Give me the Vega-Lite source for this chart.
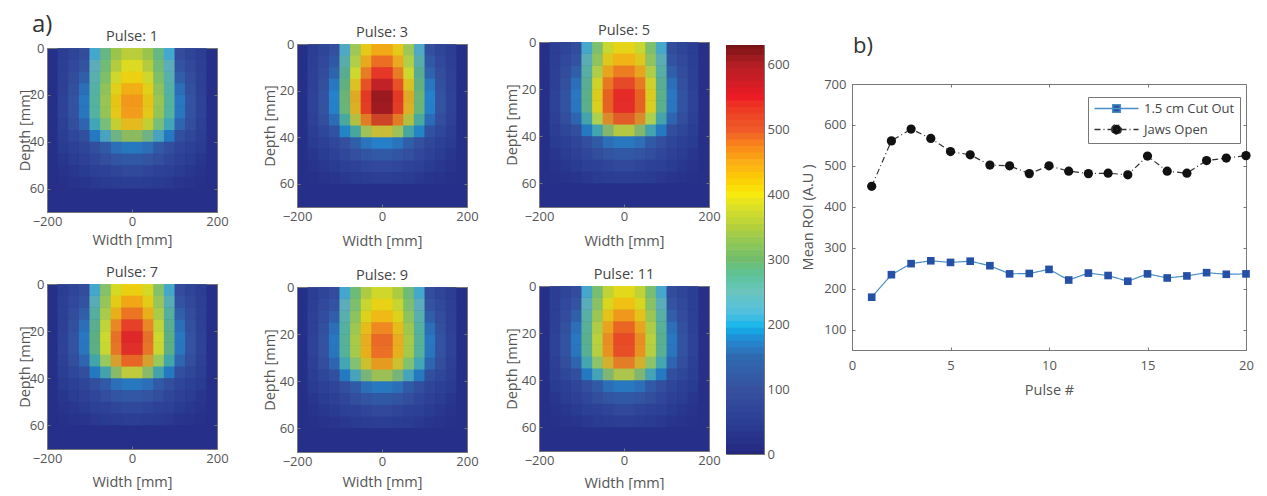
{"$schema":"https://vega.github.io/schema/vega-lite/v6.json","padding":{"left":16,"top":0,"right":0,"bottom":0},"background":"white",
"config":{"font":"Open Sans","view":{"stroke":"#777"},"title":{"font":"Open Sans","fontSize":14.5,"fontWeight":"normal","color":"#444","offset":-2},"axis":{"grid":false,"labelFlush":false,"labelFont":"Open Sans","titleFont":"Open Sans","labelFontSize":13,"titleFontSize":14.5,"titleFontWeight":"normal","labelColor":"#555","titleColor":"#555","domainColor":"#777","tickColor":"#777","tickSize":-3,"labelPadding":6}},
"resolve":{"scale":{"color":"independent"}},
"datasets":{
"c":[{"v":0},{"v":10},{"v":20},{"v":30},{"v":40},{"v":50},{"v":60},{"v":70},{"v":80},{"v":90},{"v":100},{"v":110},{"v":120},{"v":130},{"v":140},{"v":150},{"v":160},{"v":170},{"v":180},{"v":190},{"v":200},{"v":210},{"v":220},{"v":230},{"v":240},{"v":250},{"v":260},{"v":270},{"v":280},{"v":290},{"v":300},{"v":310},{"v":320},{"v":330},{"v":340},{"v":350},{"v":360},{"v":370},{"v":380},{"v":390},{"v":400},{"v":410},{"v":420},{"v":430},{"v":440},{"v":450},{"v":460},{"v":470},{"v":480},{"v":490},{"v":500},{"v":510},{"v":520},{"v":530},{"v":540},{"v":550},{"v":560},{"v":570},{"v":580},{"v":590},{"v":600},{"v":610},{"v":620},{"v":630}],
"p1":[
{"w":-150,"d":0,"v":50},{"w":-125,"d":0,"v":60},{"w":-100,"d":0,"v":85},{"w":-75,"d":0,"v":200},{"w":-50,"d":0,"v":290},{"w":-25,"d":0,"v":330},{"w":0,"d":0,"v":340},{"w":25,"d":0,"v":330},{"w":50,"d":0,"v":290},{"w":75,"d":0,"v":200},{"w":100,"d":0,"v":85},{"w":125,"d":0,"v":60},{"w":150,"d":0,"v":50},
{"w":-150,"d":5,"v":60},{"w":-125,"d":5,"v":75},{"w":-100,"d":5,"v":100},{"w":-75,"d":5,"v":230},{"w":-50,"d":5,"v":300},{"w":-25,"d":5,"v":350},{"w":0,"d":5,"v":370},{"w":25,"d":5,"v":350},{"w":50,"d":5,"v":300},{"w":75,"d":5,"v":230},{"w":100,"d":5,"v":100},{"w":125,"d":5,"v":75},{"w":150,"d":5,"v":60},
{"w":-150,"d":10,"v":65},{"w":-125,"d":10,"v":90},{"w":-100,"d":10,"v":120},{"w":-75,"d":10,"v":250},{"w":-50,"d":10,"v":310},{"w":-25,"d":10,"v":370},{"w":0,"d":10,"v":400},{"w":25,"d":10,"v":370},{"w":50,"d":10,"v":310},{"w":75,"d":10,"v":250},{"w":100,"d":10,"v":120},{"w":125,"d":10,"v":90},{"w":150,"d":10,"v":65},
{"w":-150,"d":15,"v":70},{"w":-125,"d":15,"v":100},{"w":-100,"d":15,"v":145},{"w":-75,"d":15,"v":265},{"w":-50,"d":15,"v":325},{"w":-25,"d":15,"v":395},{"w":0,"d":15,"v":425},{"w":25,"d":15,"v":395},{"w":50,"d":15,"v":325},{"w":75,"d":15,"v":265},{"w":100,"d":15,"v":145},{"w":125,"d":15,"v":100},{"w":150,"d":15,"v":70},
{"w":-150,"d":20,"v":70},{"w":-125,"d":20,"v":110},{"w":-100,"d":20,"v":165},{"w":-75,"d":20,"v":275},{"w":-50,"d":20,"v":340},{"w":-25,"d":20,"v":420},{"w":0,"d":20,"v":460},{"w":25,"d":20,"v":420},{"w":50,"d":20,"v":340},{"w":75,"d":20,"v":275},{"w":100,"d":20,"v":165},{"w":125,"d":20,"v":110},{"w":150,"d":20,"v":70},
{"w":-150,"d":25,"v":75},{"w":-125,"d":25,"v":115},{"w":-100,"d":25,"v":170},{"w":-75,"d":25,"v":280},{"w":-50,"d":25,"v":345},{"w":-25,"d":25,"v":430},{"w":0,"d":25,"v":470},{"w":25,"d":25,"v":430},{"w":50,"d":25,"v":345},{"w":75,"d":25,"v":280},{"w":100,"d":25,"v":170},{"w":125,"d":25,"v":115},{"w":150,"d":25,"v":75},
{"w":-150,"d":30,"v":70},{"w":-125,"d":30,"v":105},{"w":-100,"d":30,"v":160},{"w":-75,"d":30,"v":265},{"w":-50,"d":30,"v":330},{"w":-25,"d":30,"v":410},{"w":0,"d":30,"v":450},{"w":25,"d":30,"v":410},{"w":50,"d":30,"v":330},{"w":75,"d":30,"v":265},{"w":100,"d":30,"v":160},{"w":125,"d":30,"v":105},{"w":150,"d":30,"v":70},
{"w":-150,"d":35,"v":60},{"w":-125,"d":35,"v":85},{"w":-100,"d":35,"v":110},{"w":-75,"d":35,"v":185},{"w":-50,"d":35,"v":250},{"w":-25,"d":35,"v":320},{"w":0,"d":35,"v":350},{"w":25,"d":35,"v":320},{"w":50,"d":35,"v":250},{"w":75,"d":35,"v":185},{"w":100,"d":35,"v":110},{"w":125,"d":35,"v":85},{"w":150,"d":35,"v":60},
{"w":-150,"d":40,"v":50},{"w":-125,"d":40,"v":60},{"w":-100,"d":40,"v":75},{"w":-75,"d":40,"v":105},{"w":-50,"d":40,"v":140},{"w":-25,"d":40,"v":165},{"w":0,"d":40,"v":170},{"w":25,"d":40,"v":165},{"w":50,"d":40,"v":140},{"w":75,"d":40,"v":105},{"w":100,"d":40,"v":75},{"w":125,"d":40,"v":60},{"w":150,"d":40,"v":50},
{"w":-150,"d":45,"v":40},{"w":-125,"d":45,"v":50},{"w":-100,"d":45,"v":65},{"w":-75,"d":45,"v":85},{"w":-50,"d":45,"v":105},{"w":-25,"d":45,"v":120},{"w":0,"d":45,"v":125},{"w":25,"d":45,"v":120},{"w":50,"d":45,"v":105},{"w":75,"d":45,"v":85},{"w":100,"d":45,"v":65},{"w":125,"d":45,"v":50},{"w":150,"d":45,"v":40},
{"w":-150,"d":50,"v":30},{"w":-125,"d":50,"v":40},{"w":-100,"d":50,"v":50},{"w":-75,"d":50,"v":60},{"w":-50,"d":50,"v":70},{"w":-25,"d":50,"v":80},{"w":0,"d":50,"v":85},{"w":25,"d":50,"v":80},{"w":50,"d":50,"v":70},{"w":75,"d":50,"v":60},{"w":100,"d":50,"v":50},{"w":125,"d":50,"v":40},{"w":150,"d":50,"v":30},
{"w":-150,"d":55,"v":25},{"w":-125,"d":55,"v":30},{"w":-100,"d":55,"v":35},{"w":-75,"d":55,"v":45},{"w":-50,"d":55,"v":50},{"w":-25,"d":55,"v":55},{"w":0,"d":55,"v":60},{"w":25,"d":55,"v":55},{"w":50,"d":55,"v":50},{"w":75,"d":55,"v":45},{"w":100,"d":55,"v":35},{"w":125,"d":55,"v":30},{"w":150,"d":55,"v":25}],
"p3":[
{"w":-150,"d":0,"v":50},{"w":-125,"d":0,"v":60},{"w":-100,"d":0,"v":93},{"w":-75,"d":0,"v":205},{"w":-50,"d":0,"v":340},{"w":-25,"d":0,"v":402},{"w":0,"d":0,"v":417},{"w":25,"d":0,"v":402},{"w":50,"d":0,"v":340},{"w":75,"d":0,"v":205},{"w":100,"d":0,"v":93},{"w":125,"d":0,"v":60},{"w":150,"d":0,"v":50},
{"w":-150,"d":5,"v":60},{"w":-125,"d":5,"v":75},{"w":-100,"d":5,"v":108},{"w":-75,"d":5,"v":245},{"w":-50,"d":5,"v":355},{"w":-25,"d":5,"v":433},{"w":0,"d":5,"v":464},{"w":25,"d":5,"v":433},{"w":50,"d":5,"v":355},{"w":75,"d":5,"v":245},{"w":100,"d":5,"v":108},{"w":125,"d":5,"v":75},{"w":150,"d":5,"v":60},
{"w":-150,"d":10,"v":65},{"w":-125,"d":10,"v":90},{"w":-100,"d":10,"v":130},{"w":-75,"d":10,"v":270},{"w":-50,"d":10,"v":371},{"w":-25,"d":10,"v":464},{"w":0,"d":10,"v":510},{"w":25,"d":10,"v":464},{"w":50,"d":10,"v":371},{"w":75,"d":10,"v":270},{"w":100,"d":10,"v":130},{"w":125,"d":10,"v":90},{"w":150,"d":10,"v":65},
{"w":-150,"d":15,"v":70},{"w":-125,"d":15,"v":100},{"w":-100,"d":15,"v":155},{"w":-75,"d":15,"v":290},{"w":-50,"d":15,"v":400},{"w":-25,"d":15,"v":502},{"w":0,"d":15,"v":549},{"w":25,"d":15,"v":502},{"w":50,"d":15,"v":400},{"w":75,"d":15,"v":290},{"w":100,"d":15,"v":155},{"w":125,"d":15,"v":100},{"w":150,"d":15,"v":70},
{"w":-150,"d":20,"v":72},{"w":-125,"d":20,"v":110},{"w":-100,"d":20,"v":175},{"w":-75,"d":20,"v":305},{"w":-50,"d":20,"v":440},{"w":-25,"d":20,"v":541},{"w":0,"d":20,"v":603},{"w":25,"d":20,"v":541},{"w":50,"d":20,"v":440},{"w":75,"d":20,"v":305},{"w":100,"d":20,"v":175},{"w":125,"d":20,"v":110},{"w":150,"d":20,"v":72},
{"w":-150,"d":25,"v":75},{"w":-125,"d":25,"v":115},{"w":-100,"d":25,"v":180},{"w":-75,"d":25,"v":315},{"w":-50,"d":25,"v":455},{"w":-25,"d":25,"v":557},{"w":0,"d":25,"v":625},{"w":25,"d":25,"v":557},{"w":50,"d":25,"v":455},{"w":75,"d":25,"v":315},{"w":100,"d":25,"v":180},{"w":125,"d":25,"v":115},{"w":150,"d":25,"v":75},
{"w":-150,"d":30,"v":72},{"w":-125,"d":30,"v":105},{"w":-100,"d":30,"v":168},{"w":-75,"d":30,"v":295},{"w":-50,"d":30,"v":425},{"w":-25,"d":30,"v":526},{"w":0,"d":30,"v":588},{"w":25,"d":30,"v":526},{"w":50,"d":30,"v":425},{"w":75,"d":30,"v":295},{"w":100,"d":30,"v":168},{"w":125,"d":30,"v":105},{"w":150,"d":30,"v":72},
{"w":-150,"d":35,"v":62},{"w":-125,"d":35,"v":85},{"w":-100,"d":35,"v":120},{"w":-75,"d":35,"v":195},{"w":-50,"d":35,"v":290},{"w":-25,"d":35,"v":386},{"w":0,"d":35,"v":433},{"w":25,"d":35,"v":386},{"w":50,"d":35,"v":290},{"w":75,"d":35,"v":195},{"w":100,"d":35,"v":120},{"w":125,"d":35,"v":85},{"w":150,"d":35,"v":62},
{"w":-150,"d":40,"v":52},{"w":-125,"d":40,"v":60},{"w":-100,"d":40,"v":80},{"w":-75,"d":40,"v":110},{"w":-50,"d":40,"v":148},{"w":-25,"d":40,"v":172},{"w":0,"d":40,"v":178},{"w":25,"d":40,"v":172},{"w":50,"d":40,"v":148},{"w":75,"d":40,"v":110},{"w":100,"d":40,"v":80},{"w":125,"d":40,"v":60},{"w":150,"d":40,"v":52},
{"w":-150,"d":45,"v":40},{"w":-125,"d":45,"v":50},{"w":-100,"d":45,"v":68},{"w":-75,"d":45,"v":88},{"w":-50,"d":45,"v":108},{"w":-25,"d":45,"v":122},{"w":0,"d":45,"v":128},{"w":25,"d":45,"v":122},{"w":50,"d":45,"v":108},{"w":75,"d":45,"v":88},{"w":100,"d":45,"v":68},{"w":125,"d":45,"v":50},{"w":150,"d":45,"v":40},
{"w":-150,"d":50,"v":30},{"w":-125,"d":50,"v":40},{"w":-100,"d":50,"v":50},{"w":-75,"d":50,"v":62},{"w":-50,"d":50,"v":72},{"w":-25,"d":50,"v":82},{"w":0,"d":50,"v":87},{"w":25,"d":50,"v":82},{"w":50,"d":50,"v":72},{"w":75,"d":50,"v":62},{"w":100,"d":50,"v":50},{"w":125,"d":50,"v":40},{"w":150,"d":50,"v":30},
{"w":-150,"d":55,"v":25},{"w":-125,"d":55,"v":30},{"w":-100,"d":55,"v":36},{"w":-75,"d":55,"v":46},{"w":-50,"d":55,"v":52},{"w":-25,"d":55,"v":57},{"w":0,"d":55,"v":62},{"w":25,"d":55,"v":57},{"w":50,"d":55,"v":52},{"w":75,"d":55,"v":46},{"w":100,"d":55,"v":36},{"w":125,"d":55,"v":30},{"w":150,"d":55,"v":25}],
"p5":[
{"w":-150,"d":0,"v":50},{"w":-125,"d":0,"v":60},{"w":-100,"d":0,"v":85},{"w":-75,"d":0,"v":200},{"w":-50,"d":0,"v":314},{"w":-25,"d":0,"v":365},{"w":0,"d":0,"v":378},{"w":25,"d":0,"v":365},{"w":50,"d":0,"v":314},{"w":75,"d":0,"v":200},{"w":100,"d":0,"v":85},{"w":125,"d":0,"v":60},{"w":150,"d":0,"v":50},
{"w":-150,"d":5,"v":60},{"w":-125,"d":5,"v":75},{"w":-100,"d":5,"v":100},{"w":-75,"d":5,"v":235},{"w":-50,"d":5,"v":327},{"w":-25,"d":5,"v":391},{"w":0,"d":5,"v":416},{"w":25,"d":5,"v":391},{"w":50,"d":5,"v":327},{"w":75,"d":5,"v":235},{"w":100,"d":5,"v":100},{"w":125,"d":5,"v":75},{"w":150,"d":5,"v":60},
{"w":-150,"d":10,"v":65},{"w":-125,"d":10,"v":90},{"w":-100,"d":10,"v":120},{"w":-75,"d":10,"v":255},{"w":-50,"d":10,"v":340},{"w":-25,"d":10,"v":430},{"w":0,"d":10,"v":454},{"w":25,"d":10,"v":430},{"w":50,"d":10,"v":340},{"w":75,"d":10,"v":255},{"w":100,"d":10,"v":120},{"w":125,"d":10,"v":90},{"w":150,"d":10,"v":65},
{"w":-150,"d":15,"v":70},{"w":-125,"d":15,"v":100},{"w":-100,"d":15,"v":145},{"w":-75,"d":15,"v":275},{"w":-50,"d":15,"v":375},{"w":-25,"d":15,"v":470},{"w":0,"d":15,"v":490},{"w":25,"d":15,"v":470},{"w":50,"d":15,"v":375},{"w":75,"d":15,"v":275},{"w":100,"d":15,"v":145},{"w":125,"d":15,"v":100},{"w":150,"d":15,"v":70},
{"w":-150,"d":20,"v":70},{"w":-125,"d":20,"v":110},{"w":-100,"d":20,"v":165},{"w":-75,"d":20,"v":290},{"w":-50,"d":20,"v":410},{"w":-25,"d":20,"v":505},{"w":0,"d":20,"v":535},{"w":25,"d":20,"v":505},{"w":50,"d":20,"v":410},{"w":75,"d":20,"v":290},{"w":100,"d":20,"v":165},{"w":125,"d":20,"v":110},{"w":150,"d":20,"v":70},
{"w":-150,"d":25,"v":75},{"w":-125,"d":25,"v":115},{"w":-100,"d":25,"v":170},{"w":-75,"d":25,"v":295},{"w":-50,"d":25,"v":420},{"w":-25,"d":25,"v":520},{"w":0,"d":25,"v":550},{"w":25,"d":25,"v":520},{"w":50,"d":25,"v":420},{"w":75,"d":25,"v":295},{"w":100,"d":25,"v":170},{"w":125,"d":25,"v":115},{"w":150,"d":25,"v":75},
{"w":-150,"d":30,"v":70},{"w":-125,"d":30,"v":105},{"w":-100,"d":30,"v":160},{"w":-75,"d":30,"v":280},{"w":-50,"d":30,"v":400},{"w":-25,"d":30,"v":505},{"w":0,"d":30,"v":530},{"w":25,"d":30,"v":505},{"w":50,"d":30,"v":400},{"w":75,"d":30,"v":280},{"w":100,"d":30,"v":160},{"w":125,"d":30,"v":105},{"w":150,"d":30,"v":70},
{"w":-150,"d":35,"v":60},{"w":-125,"d":35,"v":85},{"w":-100,"d":35,"v":110},{"w":-75,"d":35,"v":185},{"w":-50,"d":35,"v":270},{"w":-25,"d":35,"v":352},{"w":0,"d":35,"v":391},{"w":25,"d":35,"v":352},{"w":50,"d":35,"v":270},{"w":75,"d":35,"v":185},{"w":100,"d":35,"v":110},{"w":125,"d":35,"v":85},{"w":150,"d":35,"v":60},
{"w":-150,"d":40,"v":50},{"w":-125,"d":40,"v":60},{"w":-100,"d":40,"v":75},{"w":-75,"d":40,"v":105},{"w":-50,"d":40,"v":140},{"w":-25,"d":40,"v":165},{"w":0,"d":40,"v":170},{"w":25,"d":40,"v":165},{"w":50,"d":40,"v":140},{"w":75,"d":40,"v":105},{"w":100,"d":40,"v":75},{"w":125,"d":40,"v":60},{"w":150,"d":40,"v":50},
{"w":-150,"d":45,"v":40},{"w":-125,"d":45,"v":50},{"w":-100,"d":45,"v":65},{"w":-75,"d":45,"v":85},{"w":-50,"d":45,"v":105},{"w":-25,"d":45,"v":120},{"w":0,"d":45,"v":125},{"w":25,"d":45,"v":120},{"w":50,"d":45,"v":105},{"w":75,"d":45,"v":85},{"w":100,"d":45,"v":65},{"w":125,"d":45,"v":50},{"w":150,"d":45,"v":40},
{"w":-150,"d":50,"v":30},{"w":-125,"d":50,"v":40},{"w":-100,"d":50,"v":50},{"w":-75,"d":50,"v":60},{"w":-50,"d":50,"v":70},{"w":-25,"d":50,"v":80},{"w":0,"d":50,"v":85},{"w":25,"d":50,"v":80},{"w":50,"d":50,"v":70},{"w":75,"d":50,"v":60},{"w":100,"d":50,"v":50},{"w":125,"d":50,"v":40},{"w":150,"d":50,"v":30},
{"w":-150,"d":55,"v":25},{"w":-125,"d":55,"v":30},{"w":-100,"d":55,"v":35},{"w":-75,"d":55,"v":45},{"w":-50,"d":55,"v":50},{"w":-25,"d":55,"v":55},{"w":0,"d":55,"v":60},{"w":25,"d":55,"v":55},{"w":50,"d":55,"v":50},{"w":75,"d":55,"v":45},{"w":100,"d":55,"v":35},{"w":125,"d":55,"v":30},{"w":150,"d":55,"v":25}],
"p7":[
{"w":-150,"d":0,"v":50},{"w":-125,"d":0,"v":60},{"w":-100,"d":0,"v":85},{"w":-75,"d":0,"v":200},{"w":-50,"d":0,"v":320},{"w":-25,"d":0,"v":373},{"w":0,"d":0,"v":386},{"w":25,"d":0,"v":373},{"w":50,"d":0,"v":320},{"w":75,"d":0,"v":200},{"w":100,"d":0,"v":85},{"w":125,"d":0,"v":60},{"w":150,"d":0,"v":50},
{"w":-150,"d":5,"v":60},{"w":-125,"d":5,"v":75},{"w":-100,"d":5,"v":100},{"w":-75,"d":5,"v":235},{"w":-50,"d":5,"v":333},{"w":-25,"d":5,"v":400},{"w":0,"d":5,"v":426},{"w":25,"d":5,"v":400},{"w":50,"d":5,"v":333},{"w":75,"d":5,"v":235},{"w":100,"d":5,"v":100},{"w":125,"d":5,"v":75},{"w":150,"d":5,"v":60},
{"w":-150,"d":10,"v":65},{"w":-125,"d":10,"v":90},{"w":-100,"d":10,"v":120},{"w":-75,"d":10,"v":258},{"w":-50,"d":10,"v":346},{"w":-25,"d":10,"v":426},{"w":0,"d":10,"v":466},{"w":25,"d":10,"v":426},{"w":50,"d":10,"v":346},{"w":75,"d":10,"v":258},{"w":100,"d":10,"v":120},{"w":125,"d":10,"v":90},{"w":150,"d":10,"v":65},
{"w":-150,"d":15,"v":70},{"w":-125,"d":15,"v":100},{"w":-100,"d":15,"v":145},{"w":-75,"d":15,"v":278},{"w":-50,"d":15,"v":366},{"w":-25,"d":15,"v":459},{"w":0,"d":15,"v":499},{"w":25,"d":15,"v":459},{"w":50,"d":15,"v":366},{"w":75,"d":15,"v":278},{"w":100,"d":15,"v":145},{"w":125,"d":15,"v":100},{"w":150,"d":15,"v":70},
{"w":-150,"d":20,"v":70},{"w":-125,"d":20,"v":110},{"w":-100,"d":20,"v":165},{"w":-75,"d":20,"v":290},{"w":-50,"d":20,"v":386},{"w":-25,"d":20,"v":493},{"w":0,"d":20,"v":546},{"w":25,"d":20,"v":493},{"w":50,"d":20,"v":386},{"w":75,"d":20,"v":290},{"w":100,"d":20,"v":165},{"w":125,"d":20,"v":110},{"w":150,"d":20,"v":70},
{"w":-150,"d":25,"v":75},{"w":-125,"d":25,"v":115},{"w":-100,"d":25,"v":170},{"w":-75,"d":25,"v":298},{"w":-50,"d":25,"v":393},{"w":-25,"d":25,"v":506},{"w":0,"d":25,"v":559},{"w":25,"d":25,"v":506},{"w":50,"d":25,"v":393},{"w":75,"d":25,"v":298},{"w":100,"d":25,"v":170},{"w":125,"d":25,"v":115},{"w":150,"d":25,"v":75},
{"w":-150,"d":30,"v":70},{"w":-125,"d":30,"v":105},{"w":-100,"d":30,"v":160},{"w":-75,"d":30,"v":280},{"w":-50,"d":30,"v":373},{"w":-25,"d":30,"v":479},{"w":0,"d":30,"v":532},{"w":25,"d":30,"v":479},{"w":50,"d":30,"v":373},{"w":75,"d":30,"v":280},{"w":100,"d":30,"v":160},{"w":125,"d":30,"v":105},{"w":150,"d":30,"v":70},
{"w":-150,"d":35,"v":60},{"w":-125,"d":35,"v":85},{"w":-100,"d":35,"v":110},{"w":-75,"d":35,"v":185},{"w":-50,"d":35,"v":275},{"w":-25,"d":35,"v":360},{"w":0,"d":35,"v":400},{"w":25,"d":35,"v":360},{"w":50,"d":35,"v":275},{"w":75,"d":35,"v":185},{"w":100,"d":35,"v":110},{"w":125,"d":35,"v":85},{"w":150,"d":35,"v":60},
{"w":-150,"d":40,"v":50},{"w":-125,"d":40,"v":60},{"w":-100,"d":40,"v":75},{"w":-75,"d":40,"v":105},{"w":-50,"d":40,"v":140},{"w":-25,"d":40,"v":165},{"w":0,"d":40,"v":170},{"w":25,"d":40,"v":165},{"w":50,"d":40,"v":140},{"w":75,"d":40,"v":105},{"w":100,"d":40,"v":75},{"w":125,"d":40,"v":60},{"w":150,"d":40,"v":50},
{"w":-150,"d":45,"v":40},{"w":-125,"d":45,"v":50},{"w":-100,"d":45,"v":65},{"w":-75,"d":45,"v":85},{"w":-50,"d":45,"v":105},{"w":-25,"d":45,"v":120},{"w":0,"d":45,"v":125},{"w":25,"d":45,"v":120},{"w":50,"d":45,"v":105},{"w":75,"d":45,"v":85},{"w":100,"d":45,"v":65},{"w":125,"d":45,"v":50},{"w":150,"d":45,"v":40},
{"w":-150,"d":50,"v":30},{"w":-125,"d":50,"v":40},{"w":-100,"d":50,"v":50},{"w":-75,"d":50,"v":60},{"w":-50,"d":50,"v":70},{"w":-25,"d":50,"v":80},{"w":0,"d":50,"v":85},{"w":25,"d":50,"v":80},{"w":50,"d":50,"v":70},{"w":75,"d":50,"v":60},{"w":100,"d":50,"v":50},{"w":125,"d":50,"v":40},{"w":150,"d":50,"v":30},
{"w":-150,"d":55,"v":25},{"w":-125,"d":55,"v":30},{"w":-100,"d":55,"v":35},{"w":-75,"d":55,"v":45},{"w":-50,"d":55,"v":50},{"w":-25,"d":55,"v":55},{"w":0,"d":55,"v":60},{"w":25,"d":55,"v":55},{"w":50,"d":55,"v":50},{"w":75,"d":55,"v":45},{"w":100,"d":55,"v":35},{"w":125,"d":55,"v":30},{"w":150,"d":55,"v":25}],
"p9":[
{"w":-150,"d":0,"v":50},{"w":-125,"d":0,"v":60},{"w":-100,"d":0,"v":85},{"w":-75,"d":0,"v":200},{"w":-50,"d":0,"v":300},{"w":-25,"d":0,"v":344},{"w":0,"d":0,"v":355},{"w":25,"d":0,"v":344},{"w":50,"d":0,"v":300},{"w":75,"d":0,"v":200},{"w":100,"d":0,"v":85},{"w":125,"d":0,"v":60},{"w":150,"d":0,"v":50},
{"w":-150,"d":5,"v":60},{"w":-125,"d":5,"v":75},{"w":-100,"d":5,"v":100},{"w":-75,"d":5,"v":230},{"w":-50,"d":5,"v":311},{"w":-25,"d":5,"v":367},{"w":0,"d":5,"v":389},{"w":25,"d":5,"v":367},{"w":50,"d":5,"v":311},{"w":75,"d":5,"v":230},{"w":100,"d":5,"v":100},{"w":125,"d":5,"v":75},{"w":150,"d":5,"v":60},
{"w":-150,"d":10,"v":65},{"w":-125,"d":10,"v":90},{"w":-100,"d":10,"v":120},{"w":-75,"d":10,"v":250},{"w":-50,"d":10,"v":322},{"w":-25,"d":10,"v":389},{"w":0,"d":10,"v":422},{"w":25,"d":10,"v":389},{"w":50,"d":10,"v":322},{"w":75,"d":10,"v":250},{"w":100,"d":10,"v":120},{"w":125,"d":10,"v":90},{"w":150,"d":10,"v":65},
{"w":-150,"d":15,"v":70},{"w":-125,"d":15,"v":100},{"w":-100,"d":15,"v":145},{"w":-75,"d":15,"v":268},{"w":-50,"d":15,"v":339},{"w":-25,"d":15,"v":416},{"w":0,"d":15,"v":450},{"w":25,"d":15,"v":416},{"w":50,"d":15,"v":339},{"w":75,"d":15,"v":268},{"w":100,"d":15,"v":145},{"w":125,"d":15,"v":100},{"w":150,"d":15,"v":70},
{"w":-150,"d":20,"v":70},{"w":-125,"d":20,"v":110},{"w":-100,"d":20,"v":165},{"w":-75,"d":20,"v":278},{"w":-50,"d":20,"v":355},{"w":-25,"d":20,"v":444},{"w":0,"d":20,"v":489},{"w":25,"d":20,"v":444},{"w":50,"d":20,"v":355},{"w":75,"d":20,"v":278},{"w":100,"d":20,"v":165},{"w":125,"d":20,"v":110},{"w":150,"d":20,"v":70},
{"w":-150,"d":25,"v":75},{"w":-125,"d":25,"v":115},{"w":-100,"d":25,"v":170},{"w":-75,"d":25,"v":285},{"w":-50,"d":25,"v":361},{"w":-25,"d":25,"v":455},{"w":0,"d":25,"v":500},{"w":25,"d":25,"v":455},{"w":50,"d":25,"v":361},{"w":75,"d":25,"v":285},{"w":100,"d":25,"v":170},{"w":125,"d":25,"v":115},{"w":150,"d":25,"v":75},
{"w":-150,"d":30,"v":70},{"w":-125,"d":30,"v":105},{"w":-100,"d":30,"v":160},{"w":-75,"d":30,"v":268},{"w":-50,"d":30,"v":344},{"w":-25,"d":30,"v":433},{"w":0,"d":30,"v":478},{"w":25,"d":30,"v":433},{"w":50,"d":30,"v":344},{"w":75,"d":30,"v":268},{"w":100,"d":30,"v":160},{"w":125,"d":30,"v":105},{"w":150,"d":30,"v":70},
{"w":-150,"d":35,"v":60},{"w":-125,"d":35,"v":85},{"w":-100,"d":35,"v":110},{"w":-75,"d":35,"v":185},{"w":-50,"d":35,"v":258},{"w":-25,"d":35,"v":333},{"w":0,"d":35,"v":367},{"w":25,"d":35,"v":333},{"w":50,"d":35,"v":258},{"w":75,"d":35,"v":185},{"w":100,"d":35,"v":110},{"w":125,"d":35,"v":85},{"w":150,"d":35,"v":60},
{"w":-150,"d":40,"v":50},{"w":-125,"d":40,"v":60},{"w":-100,"d":40,"v":75},{"w":-75,"d":40,"v":105},{"w":-50,"d":40,"v":140},{"w":-25,"d":40,"v":165},{"w":0,"d":40,"v":170},{"w":25,"d":40,"v":165},{"w":50,"d":40,"v":140},{"w":75,"d":40,"v":105},{"w":100,"d":40,"v":75},{"w":125,"d":40,"v":60},{"w":150,"d":40,"v":50},
{"w":-150,"d":45,"v":40},{"w":-125,"d":45,"v":50},{"w":-100,"d":45,"v":65},{"w":-75,"d":45,"v":85},{"w":-50,"d":45,"v":105},{"w":-25,"d":45,"v":120},{"w":0,"d":45,"v":125},{"w":25,"d":45,"v":120},{"w":50,"d":45,"v":105},{"w":75,"d":45,"v":85},{"w":100,"d":45,"v":65},{"w":125,"d":45,"v":50},{"w":150,"d":45,"v":40},
{"w":-150,"d":50,"v":30},{"w":-125,"d":50,"v":40},{"w":-100,"d":50,"v":50},{"w":-75,"d":50,"v":60},{"w":-50,"d":50,"v":70},{"w":-25,"d":50,"v":80},{"w":0,"d":50,"v":85},{"w":25,"d":50,"v":80},{"w":50,"d":50,"v":70},{"w":75,"d":50,"v":60},{"w":100,"d":50,"v":50},{"w":125,"d":50,"v":40},{"w":150,"d":50,"v":30},
{"w":-150,"d":55,"v":25},{"w":-125,"d":55,"v":30},{"w":-100,"d":55,"v":35},{"w":-75,"d":55,"v":45},{"w":-50,"d":55,"v":50},{"w":-25,"d":55,"v":55},{"w":0,"d":55,"v":60},{"w":25,"d":55,"v":55},{"w":50,"d":55,"v":50},{"w":75,"d":55,"v":45},{"w":100,"d":55,"v":35},{"w":125,"d":55,"v":30},{"w":150,"d":55,"v":25}],
"p11":[
{"w":-150,"d":0,"v":50},{"w":-125,"d":0,"v":60},{"w":-100,"d":0,"v":85},{"w":-75,"d":0,"v":200},{"w":-50,"d":0,"v":310},{"w":-25,"d":0,"v":359},{"w":0,"d":0,"v":371},{"w":25,"d":0,"v":359},{"w":50,"d":0,"v":310},{"w":75,"d":0,"v":200},{"w":100,"d":0,"v":85},{"w":125,"d":0,"v":60},{"w":150,"d":0,"v":50},
{"w":-150,"d":5,"v":60},{"w":-125,"d":5,"v":75},{"w":-100,"d":5,"v":100},{"w":-75,"d":5,"v":232},{"w":-50,"d":5,"v":322},{"w":-25,"d":5,"v":383},{"w":0,"d":5,"v":407},{"w":25,"d":5,"v":383},{"w":50,"d":5,"v":322},{"w":75,"d":5,"v":232},{"w":100,"d":5,"v":100},{"w":125,"d":5,"v":75},{"w":150,"d":5,"v":60},
{"w":-150,"d":10,"v":65},{"w":-125,"d":10,"v":90},{"w":-100,"d":10,"v":120},{"w":-75,"d":10,"v":252},{"w":-50,"d":10,"v":334},{"w":-25,"d":10,"v":407},{"w":0,"d":10,"v":444},{"w":25,"d":10,"v":407},{"w":50,"d":10,"v":334},{"w":75,"d":10,"v":252},{"w":100,"d":10,"v":120},{"w":125,"d":10,"v":90},{"w":150,"d":10,"v":65},
{"w":-150,"d":15,"v":70},{"w":-125,"d":15,"v":100},{"w":-100,"d":15,"v":145},{"w":-75,"d":15,"v":272},{"w":-50,"d":15,"v":352},{"w":-25,"d":15,"v":438},{"w":0,"d":15,"v":475},{"w":25,"d":15,"v":438},{"w":50,"d":15,"v":352},{"w":75,"d":15,"v":272},{"w":100,"d":15,"v":145},{"w":125,"d":15,"v":100},{"w":150,"d":15,"v":70},
{"w":-150,"d":20,"v":70},{"w":-125,"d":20,"v":110},{"w":-100,"d":20,"v":165},{"w":-75,"d":20,"v":285},{"w":-50,"d":20,"v":371},{"w":-25,"d":20,"v":468},{"w":0,"d":20,"v":517},{"w":25,"d":20,"v":468},{"w":50,"d":20,"v":371},{"w":75,"d":20,"v":285},{"w":100,"d":20,"v":165},{"w":125,"d":20,"v":110},{"w":150,"d":20,"v":70},
{"w":-150,"d":25,"v":75},{"w":-125,"d":25,"v":115},{"w":-100,"d":25,"v":170},{"w":-75,"d":25,"v":290},{"w":-50,"d":25,"v":377},{"w":-25,"d":25,"v":481},{"w":0,"d":25,"v":529},{"w":25,"d":25,"v":481},{"w":50,"d":25,"v":377},{"w":75,"d":25,"v":290},{"w":100,"d":25,"v":170},{"w":125,"d":25,"v":115},{"w":150,"d":25,"v":75},
{"w":-150,"d":30,"v":70},{"w":-125,"d":30,"v":105},{"w":-100,"d":30,"v":160},{"w":-75,"d":30,"v":272},{"w":-50,"d":30,"v":359},{"w":-25,"d":30,"v":456},{"w":0,"d":30,"v":505},{"w":25,"d":30,"v":456},{"w":50,"d":30,"v":359},{"w":75,"d":30,"v":272},{"w":100,"d":30,"v":160},{"w":125,"d":30,"v":105},{"w":150,"d":30,"v":70},
{"w":-150,"d":35,"v":60},{"w":-125,"d":35,"v":85},{"w":-100,"d":35,"v":110},{"w":-75,"d":35,"v":185},{"w":-50,"d":35,"v":265},{"w":-25,"d":35,"v":346},{"w":0,"d":35,"v":383},{"w":25,"d":35,"v":346},{"w":50,"d":35,"v":265},{"w":75,"d":35,"v":185},{"w":100,"d":35,"v":110},{"w":125,"d":35,"v":85},{"w":150,"d":35,"v":60},
{"w":-150,"d":40,"v":50},{"w":-125,"d":40,"v":60},{"w":-100,"d":40,"v":75},{"w":-75,"d":40,"v":105},{"w":-50,"d":40,"v":140},{"w":-25,"d":40,"v":165},{"w":0,"d":40,"v":170},{"w":25,"d":40,"v":165},{"w":50,"d":40,"v":140},{"w":75,"d":40,"v":105},{"w":100,"d":40,"v":75},{"w":125,"d":40,"v":60},{"w":150,"d":40,"v":50},
{"w":-150,"d":45,"v":40},{"w":-125,"d":45,"v":50},{"w":-100,"d":45,"v":65},{"w":-75,"d":45,"v":85},{"w":-50,"d":45,"v":105},{"w":-25,"d":45,"v":120},{"w":0,"d":45,"v":125},{"w":25,"d":45,"v":120},{"w":50,"d":45,"v":105},{"w":75,"d":45,"v":85},{"w":100,"d":45,"v":65},{"w":125,"d":45,"v":50},{"w":150,"d":45,"v":40},
{"w":-150,"d":50,"v":30},{"w":-125,"d":50,"v":40},{"w":-100,"d":50,"v":50},{"w":-75,"d":50,"v":60},{"w":-50,"d":50,"v":70},{"w":-25,"d":50,"v":80},{"w":0,"d":50,"v":85},{"w":25,"d":50,"v":80},{"w":50,"d":50,"v":70},{"w":75,"d":50,"v":60},{"w":100,"d":50,"v":50},{"w":125,"d":50,"v":40},{"w":150,"d":50,"v":30},
{"w":-150,"d":55,"v":25},{"w":-125,"d":55,"v":30},{"w":-100,"d":55,"v":35},{"w":-75,"d":55,"v":45},{"w":-50,"d":55,"v":50},{"w":-25,"d":55,"v":55},{"w":0,"d":55,"v":60},{"w":25,"d":55,"v":55},{"w":50,"d":55,"v":50},{"w":75,"d":55,"v":45},{"w":100,"d":55,"v":35},{"w":125,"d":55,"v":30},{"w":150,"d":55,"v":25}],
"s":[{"p":1,"s":"1.5 cm Cut Out","r":179},{"p":2,"s":"1.5 cm Cut Out","r":234},{"p":3,"s":"1.5 cm Cut Out","r":261},{"p":4,"s":"1.5 cm Cut Out","r":268},{"p":5,"s":"1.5 cm Cut Out","r":264},{"p":6,"s":"1.5 cm Cut Out","r":267},{"p":7,"s":"1.5 cm Cut Out","r":256},{"p":8,"s":"1.5 cm Cut Out","r":236},{"p":9,"s":"1.5 cm Cut Out","r":237},{"p":10,"s":"1.5 cm Cut Out","r":247},{"p":11,"s":"1.5 cm Cut Out","r":221},{"p":12,"s":"1.5 cm Cut Out","r":238},{"p":13,"s":"1.5 cm Cut Out","r":232},{"p":14,"s":"1.5 cm Cut Out","r":218},{"p":15,"s":"1.5 cm Cut Out","r":236},{"p":16,"s":"1.5 cm Cut Out","r":226},{"p":17,"s":"1.5 cm Cut Out","r":231},{"p":18,"s":"1.5 cm Cut Out","r":239},{"p":19,"s":"1.5 cm Cut Out","r":235},{"p":20,"s":"1.5 cm Cut Out","r":236},
{"p":1,"s":"Jaws Open","r":450},{"p":2,"s":"Jaws Open","r":561},{"p":3,"s":"Jaws Open","r":590},{"p":4,"s":"Jaws Open","r":567},{"p":5,"s":"Jaws Open","r":535},{"p":6,"s":"Jaws Open","r":527},{"p":7,"s":"Jaws Open","r":502},{"p":8,"s":"Jaws Open","r":500},{"p":9,"s":"Jaws Open","r":481},{"p":10,"s":"Jaws Open","r":500},{"p":11,"s":"Jaws Open","r":487},{"p":12,"s":"Jaws Open","r":481},{"p":13,"s":"Jaws Open","r":482},{"p":14,"s":"Jaws Open","r":478},{"p":15,"s":"Jaws Open","r":524},{"p":16,"s":"Jaws Open","r":487},{"p":17,"s":"Jaws Open","r":482},{"p":18,"s":"Jaws Open","r":513},{"p":19,"s":"Jaws Open","r":519},{"p":20,"s":"Jaws Open","r":525}]
},
"spacing":0,
"hconcat":[
{"spacing":0,"bounds":"flush","resolve":{"scale":{"color":"independent"}},"vconcat":[
{"width":170,"height":47,"view":{"stroke":null},"title":{"text":"a)","fontSize":24,"anchor":"start","offset":-36,"dx":-15,"color":"#333"},"data":{"values":[{"t":1}]},"mark":{"type":"text","opacity":0},"encoding":{}},
{"width":170,"height":164,"title":"Pulse: 1","view":{"fill":"#26308a"},"layer":[{"data":{"name":"p1"},"mark":{"type":"rect","width":21.2,"height":23.4,"opacity":0.55,"clip":true},"encoding":{"order":{"field":"v","type":"quantitative"},"x":{"field":"w","type":"quantitative","scale":{"domain":[-200,200],"padding":0,"nice":false},"axis":{"values":[-200,0,200],"title":"Width [mm]","titlePadding":5}},"y":{"field":"d","type":"quantitative","scale":{"domain":[70,0],"padding":0,"nice":false},"axis":{"values":[0,20,40,60],"title":"Depth [mm]","titlePadding":-3}},"color":{"field":"v","type":"quantitative","legend":null,"scale":{"domain":[0,50,100,150,180,200,225,250,300,350,400,450,500,550,600,630],"range":["#25277f","#2c3f95","#37519f","#2f6ab0","#2090d8","#1fb8ea","#5cc2da","#6cc5bc","#72bd6c","#b4cf3c","#f7ea0f","#fbae17","#ef5a28","#ed1c24","#b21e24","#7a1416"]}}}},{"data":{"values":[{"w":0,"d":0}]},"mark":{"type":"point","opacity":0},"encoding":{"x":{"field":"w","type":"quantitative","axis":{"orient":"top","values":[-200,0,200],"labels":false,"title":null,"domain":false}},"y":{"field":"d","type":"quantitative","axis":{"orient":"right","values":[0,20,40,60],"labels":false,"title":null,"domain":false}}}}],"resolve":{"axis":{"x":"independent","y":"independent"}}},
{"width":170,"height":72,"view":{"stroke":null},"data":{"values":[{"t":1}]},"mark":{"type":"text","opacity":0},"encoding":{}},
{"width":170,"height":165,"title":"Pulse: 7","view":{"fill":"#26308a"},"layer":[{"data":{"name":"p7"},"mark":{"type":"rect","width":21.2,"height":23.4,"opacity":0.55,"clip":true},"encoding":{"order":{"field":"v","type":"quantitative"},"x":{"field":"w","type":"quantitative","scale":{"domain":[-200,200],"padding":0,"nice":false},"axis":{"values":[-200,0,200],"title":"Width [mm]","titlePadding":10}},"y":{"field":"d","type":"quantitative","scale":{"domain":[70,0],"padding":0,"nice":false},"axis":{"values":[0,20,40,60],"title":"Depth [mm]","titlePadding":-3}},"color":{"field":"v","type":"quantitative","legend":null,"scale":{"domain":[0,50,100,150,180,200,225,250,300,350,400,450,500,550,600,630],"range":["#25277f","#2c3f95","#37519f","#2f6ab0","#2090d8","#1fb8ea","#5cc2da","#6cc5bc","#72bd6c","#b4cf3c","#f7ea0f","#fbae17","#ef5a28","#ed1c24","#b21e24","#7a1416"]}}}},{"data":{"values":[{"w":0,"d":0}]},"mark":{"type":"point","opacity":0},"encoding":{"x":{"field":"w","type":"quantitative","axis":{"orient":"top","values":[-200,0,200],"labels":false,"title":null,"domain":false}},"y":{"field":"d","type":"quantitative","axis":{"orient":"right","values":[0,20,40,60],"labels":false,"title":null,"domain":false}}}}],"resolve":{"axis":{"x":"independent","y":"independent"}}}
]},
{"width":32,"height":10,"view":{"stroke":null},"data":{"values":[{"t":1}]},"mark":{"type":"text","opacity":0},"encoding":{}},
{"spacing":0,"bounds":"flush","resolve":{"scale":{"color":"independent"}},"vconcat":[
{"width":170,"height":43,"view":{"stroke":null},"data":{"values":[{"t":1}]},"mark":{"type":"text","opacity":0},"encoding":{}},
{"width":170,"height":163,"title":"Pulse: 3","view":{"fill":"#26308a"},"layer":[{"data":{"name":"p3"},"mark":{"type":"rect","width":21.2,"height":23.4,"opacity":0.55,"clip":true},"encoding":{"order":{"field":"v","type":"quantitative"},"x":{"field":"w","type":"quantitative","scale":{"domain":[-200,200],"padding":0,"nice":false},"axis":{"values":[-200,0,200],"title":"Width [mm]","titlePadding":11}},"y":{"field":"d","type":"quantitative","scale":{"domain":[70,0],"padding":0,"nice":false},"axis":{"values":[0,20,40,60],"title":"Depth [mm]","titlePadding":2}},"color":{"field":"v","type":"quantitative","legend":null,"scale":{"domain":[0,50,100,150,180,200,225,250,300,350,400,450,500,550,600,630],"range":["#25277f","#2c3f95","#37519f","#2f6ab0","#2090d8","#1fb8ea","#5cc2da","#6cc5bc","#72bd6c","#b4cf3c","#f7ea0f","#fbae17","#ef5a28","#ed1c24","#b21e24","#7a1416"]}}}},{"data":{"values":[{"w":0,"d":0}]},"mark":{"type":"point","opacity":0},"encoding":{"x":{"field":"w","type":"quantitative","axis":{"orient":"top","values":[-200,0,200],"labels":false,"title":null,"domain":false}},"y":{"field":"d","type":"quantitative","axis":{"orient":"right","values":[0,20,40,60],"labels":false,"title":null,"domain":false}}}}],"resolve":{"axis":{"x":"independent","y":"independent"}}},
{"width":170,"height":80,"view":{"stroke":null},"data":{"values":[{"t":1}]},"mark":{"type":"text","opacity":0},"encoding":{}},
{"width":170,"height":165,"title":"Pulse: 9","view":{"fill":"#26308a"},"layer":[{"data":{"name":"p9"},"mark":{"type":"rect","width":21.2,"height":23.4,"opacity":0.55,"clip":true},"encoding":{"order":{"field":"v","type":"quantitative"},"x":{"field":"w","type":"quantitative","scale":{"domain":[-200,200],"padding":0,"nice":false},"axis":{"values":[-200,0,200],"title":"Width [mm]","titlePadding":7}},"y":{"field":"d","type":"quantitative","scale":{"domain":[70,0],"padding":0,"nice":false},"axis":{"values":[0,20,40,60],"title":"Depth [mm]","titlePadding":2}},"color":{"field":"v","type":"quantitative","legend":null,"scale":{"domain":[0,50,100,150,180,200,225,250,300,350,400,450,500,550,600,630],"range":["#25277f","#2c3f95","#37519f","#2f6ab0","#2090d8","#1fb8ea","#5cc2da","#6cc5bc","#72bd6c","#b4cf3c","#f7ea0f","#fbae17","#ef5a28","#ed1c24","#b21e24","#7a1416"]}}}},{"data":{"values":[{"w":0,"d":0}]},"mark":{"type":"point","opacity":0},"encoding":{"x":{"field":"w","type":"quantitative","axis":{"orient":"top","values":[-200,0,200],"labels":false,"title":null,"domain":false}},"y":{"field":"d","type":"quantitative","axis":{"orient":"right","values":[0,20,40,60],"labels":false,"title":null,"domain":false}}}}],"resolve":{"axis":{"x":"independent","y":"independent"}}}
]},
{"width":24,"height":10,"view":{"stroke":null},"data":{"values":[{"t":1}]},"mark":{"type":"text","opacity":0},"encoding":{}},
{"spacing":0,"bounds":"flush","resolve":{"scale":{"color":"independent"}},"vconcat":[
{"width":170,"height":41,"view":{"stroke":null},"data":{"values":[{"t":1}]},"mark":{"type":"text","opacity":0},"encoding":{}},
{"width":170,"height":165,"title":"Pulse: 5","view":{"fill":"#26308a"},"layer":[{"data":{"name":"p5"},"mark":{"type":"rect","width":21.2,"height":23.4,"opacity":0.55,"clip":true},"encoding":{"order":{"field":"v","type":"quantitative"},"x":{"field":"w","type":"quantitative","scale":{"domain":[-200,200],"padding":0,"nice":false},"axis":{"values":[-200,0,200],"title":"Width [mm]","titlePadding":11}},"y":{"field":"d","type":"quantitative","scale":{"domain":[70,0],"padding":0,"nice":false},"axis":{"values":[0,20,40,60],"title":"Depth [mm]","titlePadding":2}},"color":{"field":"v","type":"quantitative","legend":null,"scale":{"domain":[0,50,100,150,180,200,225,250,300,350,400,450,500,550,600,630],"range":["#25277f","#2c3f95","#37519f","#2f6ab0","#2090d8","#1fb8ea","#5cc2da","#6cc5bc","#72bd6c","#b4cf3c","#f7ea0f","#fbae17","#ef5a28","#ed1c24","#b21e24","#7a1416"]}}}},{"data":{"values":[{"w":0,"d":0}]},"mark":{"type":"point","opacity":0},"encoding":{"x":{"field":"w","type":"quantitative","axis":{"orient":"top","values":[-200,0,200],"labels":false,"title":null,"domain":false}},"y":{"field":"d","type":"quantitative","axis":{"orient":"right","values":[0,20,40,60],"labels":false,"title":null,"domain":false}}}}],"resolve":{"axis":{"x":"independent","y":"independent"}}},
{"width":170,"height":79,"view":{"stroke":null},"data":{"values":[{"t":1}]},"mark":{"type":"text","opacity":0},"encoding":{}},
{"width":170,"height":165,"title":"Pulse: 11","view":{"fill":"#26308a"},"layer":[{"data":{"name":"p11"},"mark":{"type":"rect","width":21.2,"height":23.4,"opacity":0.55,"clip":true},"encoding":{"order":{"field":"v","type":"quantitative"},"x":{"field":"w","type":"quantitative","scale":{"domain":[-200,200],"padding":0,"nice":false},"axis":{"values":[-200,0,200],"title":"Width [mm]","titlePadding":9}},"y":{"field":"d","type":"quantitative","scale":{"domain":[70,0],"padding":0,"nice":false},"axis":{"values":[0,20,40,60],"title":"Depth [mm]","titlePadding":2}},"color":{"field":"v","type":"quantitative","legend":null,"scale":{"domain":[0,50,100,150,180,200,225,250,300,350,400,450,500,550,600,630],"range":["#25277f","#2c3f95","#37519f","#2f6ab0","#2090d8","#1fb8ea","#5cc2da","#6cc5bc","#72bd6c","#b4cf3c","#f7ea0f","#fbae17","#ef5a28","#ed1c24","#b21e24","#7a1416"]}}}},{"data":{"values":[{"w":0,"d":0}]},"mark":{"type":"point","opacity":0},"encoding":{"x":{"field":"w","type":"quantitative","axis":{"orient":"top","values":[-200,0,200],"labels":false,"title":null,"domain":false}},"y":{"field":"d","type":"quantitative","axis":{"orient":"right","values":[0,20,40,60],"labels":false,"title":null,"domain":false}}}}],"resolve":{"axis":{"x":"independent","y":"independent"}}}
]},
{"width":4,"height":10,"view":{"stroke":null},"data":{"values":[{"t":1}]},"mark":{"type":"text","opacity":0},"encoding":{}},
{"spacing":0,"bounds":"flush","resolve":{"scale":{"color":"independent"}},"vconcat":[
{"width":38,"height":44,"view":{"stroke":null},"data":{"values":[{"t":1}]},"mark":{"type":"text","opacity":0},"encoding":{}},
{"width":38,"height":409,"data":{"name":"c"},"mark":{"type":"rect","height":7.2,"clip":true},"encoding":{"y":{"field":"v","type":"quantitative","scale":{"domain":[0,630],"padding":0,"nice":false},"axis":{"orient":"right","values":[0,100,200,300,400,500,600],"title":null,"tickSize":-3}},"color":{"field":"v","type":"quantitative","legend":null,"scale":{"domain":[0,50,100,150,180,200,225,250,300,350,400,450,500,550,600,630],"range":["#25277f","#2c3f95","#37519f","#2f6ab0","#2090d8","#1fb8ea","#5cc2da","#6cc5bc","#72bd6c","#b4cf3c","#f7ea0f","#fbae17","#ef5a28","#ed1c24","#b21e24","#7a1416"]}}}}
]},
{"width":10,"height":10,"view":{"stroke":null},"data":{"values":[{"t":1}]},"mark":{"type":"text","opacity":0},"encoding":{}},
{"spacing":0,"bounds":"flush","resolve":{"scale":{"stroke":"independent","fill":"independent","shape":"independent","size":"independent","strokeDash":"independent"},"legend":{"stroke":"independent","fill":"independent","shape":"independent","size":"independent","strokeDash":"independent"}},"vconcat":[
{"width":394,"height":83,"view":{"stroke":null},"title":{"text":"b)","fontSize":22,"anchor":"start","offset":-57,"dx":1,"color":"#333"},"data":{"values":[{"t":1}]},"mark":{"type":"text","opacity":0},"encoding":{}},
{"width":394,"height":266,"data":{"name":"s"},"layer":[
{"mark":{"type":"line","strokeWidth":1.2},"encoding":{"x":{"field":"p","type":"quantitative","scale":{"domain":[0,20]},"axis":{"values":[0,5,10,15,20],"title":"Pulse #","labelPadding":12,"titlePadding":11}},"y":{"field":"r","type":"quantitative","scale":{"domain":[50,700]},"axis":{"values":[100,200,300,400,500,600,700],"title":"Mean ROI (A.U )","labelPadding":9,"titlePadding":8}},"stroke":{"field":"s","type":"nominal","scale":{"domain":["1.5 cm Cut Out","Jaws Open"],"range":["#4a8fc4","#333333"]},"legend":{"orient":"none","legendX":236,"legendY":13,"title":null,"fillColor":"white","strokeColor":"#777","padding":5,"labelFont":"Open Sans","labelFontSize":13,"labelColor":"#444","symbolSize":100,"symbolType":"circle","labelOffset":38,"rowPadding":5,"encode":{"symbols":{"update":{"shape":{"signal":"datum.value==='Jaws Open'?'M-1,0H7.8M2.44,0A0.96,0.96 0 1 1 4.36,0A0.96,0.96 0 1 1 2.44,0Z':'M-1,0H7.8M2.64,-0.76H4.16V0.76H2.64Z'"},"fill":{"signal":"datum.value==='Jaws Open'?'#111111':'#2450a6'"},"strokeDash":{"signal":"datum.value==='Jaws Open'?[6,3,1,3]:[1,0]"},"opacity":{"value":1}}}}}},"strokeDash":{"field":"s","type":"nominal","scale":{"domain":["1.5 cm Cut Out","Jaws Open"],"range":[[1,0],[6,3,1,3]]},"legend":null}}},
{"mark":{"type":"point","filled":true,"opacity":1},"encoding":{"x":{"field":"p","type":"quantitative","axis":null},"y":{"field":"r","type":"quantitative","axis":null},"fill":{"field":"s","type":"nominal","scale":{"domain":["1.5 cm Cut Out","Jaws Open"],"range":["#2450a6","#111111"]},"legend":null},"shape":{"field":"s","type":"nominal","scale":{"domain":["1.5 cm Cut Out","Jaws Open"],"range":["square","circle"]},"legend":null},"size":{"field":"s","type":"nominal","scale":{"domain":["1.5 cm Cut Out","Jaws Open"],"range":[58,85]},"legend":null}}},
{"data":{"values":[{"p":0,"r":100}]},"mark":{"type":"point","opacity":0},"encoding":{"x":{"field":"p","type":"quantitative","axis":{"orient":"top","values":[5,10,15],"labels":false,"title":null,"domain":false}},"y":{"field":"r","type":"quantitative","axis":{"orient":"right","values":[100,200,300,400,500,600],"labels":false,"title":null,"domain":false}}}}
],"resolve":{"scale":{"stroke":"independent","fill":"independent"},"axis":{"x":"independent","y":"independent"}}}
]}
]}
